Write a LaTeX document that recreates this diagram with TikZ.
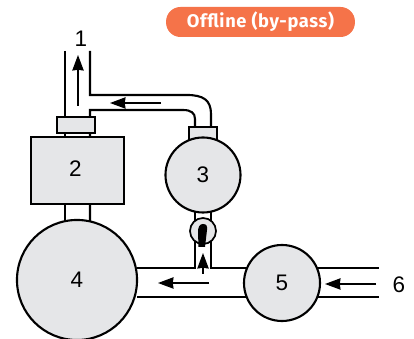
\documentclass[tikz,border=0pt]{standalone}
\usepackage{fontspec}
\setmainfont{Liberation Sans}
\newfontfamily\pillfont[LetterSpace=3.5]{Fira Sans}
\usetikzlibrary{arrows.meta}
\definecolor{partgray}{HTML}{E5E6E8}
\definecolor{pillorange}{HTML}{F57349}
\tikzset{
  pipe/.style={line width=1.5pt, black},
  part/.style={draw=black, line width=1.5pt, fill=partgray},
  ball/.style={part, circle, inner sep=0pt, outer sep=0pt, font=\fontsize{16}{16}\selectfont},
  flow/.style={line width=1.2pt, -{Stealth[length=11pt, width=8pt, inset=0.5pt]}},
  num/.style={inner sep=0pt, font=\fontsize{16}{16}\selectfont}
}
\begin{document}
\begin{tikzpicture}[x=0.025cm, y=-0.025cm]

  \useasboundingbox (0,0) rectangle (414,339);
  \clip (0,0) rectangle (414,339);

  % Draw the pipes
  \draw[pipe] (65,51) -- (65,222);
  \draw[pipe] (90,51) -- (90,95) -- (187,95) .. controls (203,95) and (211,100) .. (211,114) -- (211,126);
  \draw[pipe] (90,222) -- (90,110) -- (183,110) .. controls (191,110) and (195,113) .. (195,119) -- (195,126);
  \draw[pipe] (195,210) -- (195,268) -- (137,268);
  \draw[pipe] (211,210) -- (211,268) -- (379,268);
  \draw[pipe] (137,297) -- (379,297);

  % Draw the caps and the box
  \node[part, minimum width=0.95cm, minimum height=0.4cm, inner sep=0pt, outer sep=0pt] (cap1) at (76,125) {};
  \node[part, minimum width=0.72cm, minimum height=0.55cm, inner sep=0pt, outer sep=0pt] (cap3) at (203,138) {};
  \node[part, minimum width=2.32cm, minimum height=1.68cm, outer sep=0pt] (box2) at (77.5,170.5) {};

  % Draw the round parts
  \node[ball, minimum size=1.875cm] (ball3) at (203,175) {3};
  \node[ball, minimum size=3cm] (ball4) at (77,280) {4};
  \node[ball, minimum size=1.9cm] (ball5) at (282,283) {5};

  % Draw the valve
  \node[part, circle, minimum size=0.65cm, inner sep=0pt, line width=1.2pt] (valve) at (203,231) {};
  \fill[black] (203,224) .. controls (206.5,224) and (207.5,226) .. (207,230) -- (205,247) -- (198.5,247) -- (198,232) .. controls (198,227) and (199.5,224) .. (203,224) -- cycle;

  % Draw the flow arrows
  \coordinate (up0) at (78,106);
  \coordinate (up1) at (78,55);
  \coordinate (top0) at (161,103);
  \coordinate (top1) at (110,103);
  \coordinate (mid0) at (203,274);
  \coordinate (mid1) at (203,253);
  \coordinate (low0) at (209,283);
  \coordinate (low1) at (158,283);
  \coordinate (in0) at (376,284);
  \coordinate (in1) at (325,284);
  \draw[flow] (up0) -- (up1);
  \draw[flow] (top0) -- (top1);
  \draw[flow] (mid0) -- (mid1);
  \draw[flow] (low0) -- (low1);
  \draw[flow] (in0) -- (in1);

  % Labels
  \node[num] (lab1) at (81,39) {1};
  \node[num] (lab2) at (75.5,169) {2};
  \node[num] (lab6) at (399,285) {6};
  \node[fill=pillorange, rounded corners=0.36cm, minimum width=4.72cm, minimum height=0.75cm, inner sep=0pt, text=white, font=\pillfont\bfseries\fontsize{13}{13}\selectfont] (pill) at (260.5,22) {Offline (by-pass)};

\end{tikzpicture}
\end{document}
